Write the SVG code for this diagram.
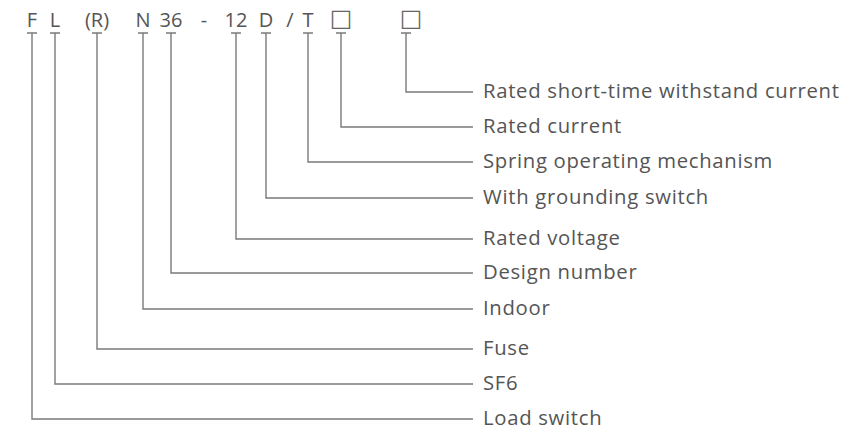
<svg xmlns="http://www.w3.org/2000/svg" width="852" height="434" viewBox="0 0 852 434">
<style>
.code{font-family:"Open Sans","Noto Sans",sans-serif;font-size:20px;fill:#555;text-anchor:middle}
.sq{font-family:"DejaVu Sans",sans-serif;font-size:24px;fill:#666;text-anchor:middle}
.lbl{font-family:"Open Sans","Noto Sans",sans-serif;font-size:20.3px;letter-spacing:0.7px;fill:#555}
.ln{fill:none;stroke:#7a7a7a;stroke-width:1.4}
</style>
<rect width="852" height="434" fill="#fff"/>
<g id="code">
<text class="code" x="32" y="27">F</text>
<text class="code" x="55" y="27">L</text>
<text class="code" x="97" y="27">(R)</text>
<text class="code" x="143" y="27">N</text>
<text class="code" x="171" y="27">36</text>
<text class="code" x="204" y="27">-</text>
<text class="code" x="236" y="27">12</text>
<text class="code" x="266" y="27">D</text>
<text class="code" x="290" y="27">/</text>
<text class="code" x="308" y="27">T</text>
<text class="sq" x="341" y="26">□</text>
<text class="sq" x="411" y="26">□</text>
</g>
<g id="connectors">
<path class="ln" d="M401,33H411M406,33V92H473"/>
<path class="ln" d="M336,33H346M341,33V127H473"/>
<path class="ln" d="M303,33H313M308,33V162H473"/>
<path class="ln" d="M261,33H271M266,33V198H473"/>
<path class="ln" d="M231,33H241M236,33V239H473"/>
<path class="ln" d="M166,33H176M171,33V273H473"/>
<path class="ln" d="M138,33H148M143,33V309H473"/>
<path class="ln" d="M92,33H102M97,33V349H473"/>
<path class="ln" d="M50,33H60M55,33V384H473"/>
<path class="ln" d="M27,33H37M32,33V419H473"/>
</g>
<g id="n-short-time"><text class="lbl" x="483" y="98">Rated short-time withstand current</text></g>
<g id="n-current"><text class="lbl" x="483" y="133">Rated current</text></g>
<g id="n-spring"><text class="lbl" x="483" y="168">Spring operating mechanism</text></g>
<g id="n-grounding"><text class="lbl" x="483" y="204">With grounding switch</text></g>
<g id="n-voltage"><text class="lbl" x="483" y="245">Rated voltage</text></g>
<g id="n-design"><text class="lbl" x="483" y="279">Design number</text></g>
<g id="n-indoor"><text class="lbl" x="483" y="315">Indoor</text></g>
<g id="n-fuse"><text class="lbl" x="483" y="355">Fuse</text></g>
<g id="n-sf6"><text class="lbl" x="483" y="390">SF6</text></g>
<g id="n-load"><text class="lbl" x="483" y="425">Load switch</text></g>
</svg>
